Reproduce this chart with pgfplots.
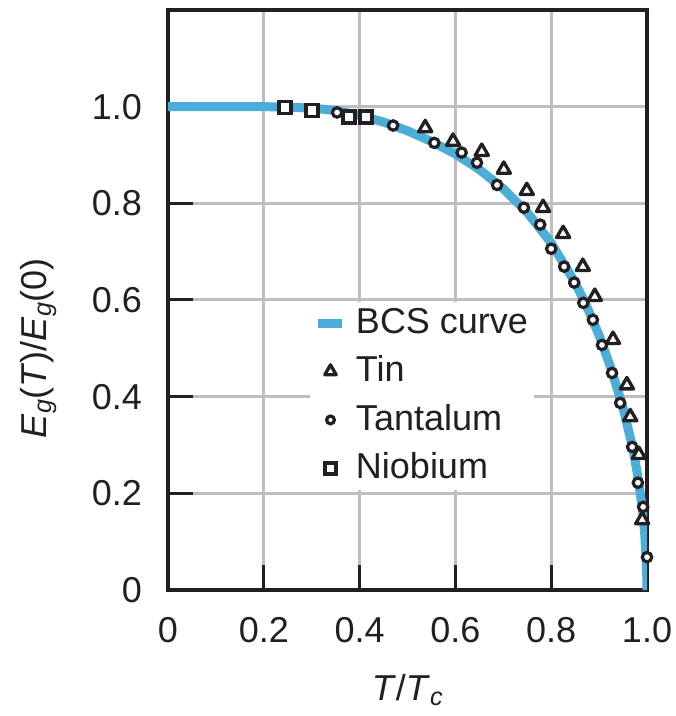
\documentclass[border=0pt]{standalone}
\usepackage{pgfplots}
\pgfplotsset{compat=1.18}
\usepackage{fontspec}
\setmainfont{Liberation Sans}
\definecolor{bcs}{RGB}{76,174,216}
\definecolor{ink}{RGB}{35,31,32}
\definecolor{gridc}{RGB}{190,190,190}
\begin{document}
\fontsize{36}{43}\selectfont
\begin{tikzpicture}
\begin{axis}[
  scale only axis, width=479pt, height=580pt,
  xmin=0, xmax=1, ymin=0, ymax=1.2,
  xtick={0,0.2,0.4,0.6,0.8,1.0}, xticklabels={0,0.2,0.4,0.6,0.8,1.0},
  ytick={0,0.2,0.4,0.6,0.8,1.0}, yticklabels={0,0.2,0.4,0.6,0.8,1.0},
  /pgf/number format/assume math mode=true,
  tick align=inside, xtick pos=bottom, ytick pos=left,
  major tick length=25pt,
  major tick style={ink, line width=3pt},
  grid=major, major grid style={gridc, line width=3pt},
  axis line style={ink, line width=4pt},
  ticklabel style={font=\fontsize{36}{43}\selectfont, text=ink},
  xticklabel style={anchor=base, yshift=-52pt},
  yticklabel style={anchor=east, xshift=-14pt},
  label style={font=\fontsize{36}{43}\selectfont, text=ink},
  xlabel={\textit{T}/\textit{T}\textsubscript{\textit{c}}},
  ylabel={\textit{E}\textsubscript{\textit{g}}(\textit{T})/\textit{E}\textsubscript{\textit{g}}(0)},
  xlabel style={at={(axis description cs:0.5,-0.172)}, anchor=center},
  ylabel style={at={(axis description cs:-0.271,0.4167)}, anchor=center},
  legend cell align=left,
  legend style={draw=none, fill=white, at={(axis description cs:0.296,0.4966)}, anchor=north west,
    font=\fontsize{36}{43}\selectfont, text=ink, row sep=13pt, column sep=7pt, inner sep=4pt},
]
\addplot[bcs, line width=9pt, line join=round,
  legend image code/.code={\draw[bcs, line width=9pt] (-12pt,0pt)--(12pt,0pt);}]
 coordinates {
 (0,1.0) (0.2,1.0) (0.25,0.999) (0.3,0.997) (0.35,0.992) (0.4,0.982) (0.45,0.968)
 (0.5,0.950) (0.55,0.928) (0.6,0.902) (0.65,0.870) (0.7,0.830) (0.75,0.781)
 (0.8,0.718) (0.85,0.636) (0.875,0.585) (0.9,0.527) (0.925,0.458) (0.95,0.377)
 (0.97,0.295) (0.98,0.240) (0.99,0.170) (0.995,0.120) (0.999,0.05) (1.0,0.0)};
\addlegendentry{BCS curve}
\addplot[only marks, mark=triangle*, mark size=7.6pt,
  mark options={draw=ink, fill=white, line width=3.3pt, line join=round},
  legend image code/.code={\draw[mark=triangle*, mark size=6.6pt, mark options={draw=ink, fill=white, line width=3.3pt, line join=round}] plot coordinates {(0pt,0pt)};}]
 coordinates {
 (0.537,0.956) (0.595,0.928) (0.655,0.907) (0.701,0.870) (0.749,0.826) (0.783,0.791)
 (0.825,0.737) (0.866,0.669) (0.891,0.607) (0.929,0.518) (0.958,0.424) (0.965,0.358)
 (0.983,0.280) (0.990,0.145)};
\addlegendentry{Tin}
\addplot[only marks, mark=*, mark size=4.7pt,
  mark options={draw=ink, fill=white, line width=3.2pt},
  legend image code/.code={\draw[mark=*, mark size=3.9pt, mark options={draw=ink, fill=white, line width=3.2pt}] plot coordinates {(0pt,0pt)};}]
 coordinates {
 (0.353,0.988) (0.47,0.961) (0.556,0.925) (0.613,0.905) (0.645,0.884) (0.687,0.838)
 (0.743,0.791) (0.777,0.756) (0.80,0.706) (0.827,0.669) (0.848,0.636) (0.867,0.594)
 (0.887,0.559) (0.906,0.507) (0.927,0.449) (0.944,0.387) (0.969,0.296) (0.981,0.222)
 (0.992,0.172) (1.0,0.068)};
\addlegendentry{Tantalum}
\addplot[only marks, mark=square*, mark size=6pt,
  mark options={draw=ink, fill=white, line width=3.6pt},
  legend image code/.code={\draw[mark=square*, mark size=5.3pt, mark options={draw=ink, fill=white, line width=3.6pt}] plot coordinates {(0pt,0pt)};}]
 coordinates {(0.244,0.998) (0.30,0.992) (0.378,0.979) (0.413,0.979)};
\addlegendentry{Niobium}
\end{axis}
\pgfresetboundingbox
\path[use as bounding box] ([xshift=-168pt,yshift=-126pt]current axis.south west) rectangle ([xshift=28pt,yshift=10pt]current axis.north east);
\end{tikzpicture}
\end{document}
